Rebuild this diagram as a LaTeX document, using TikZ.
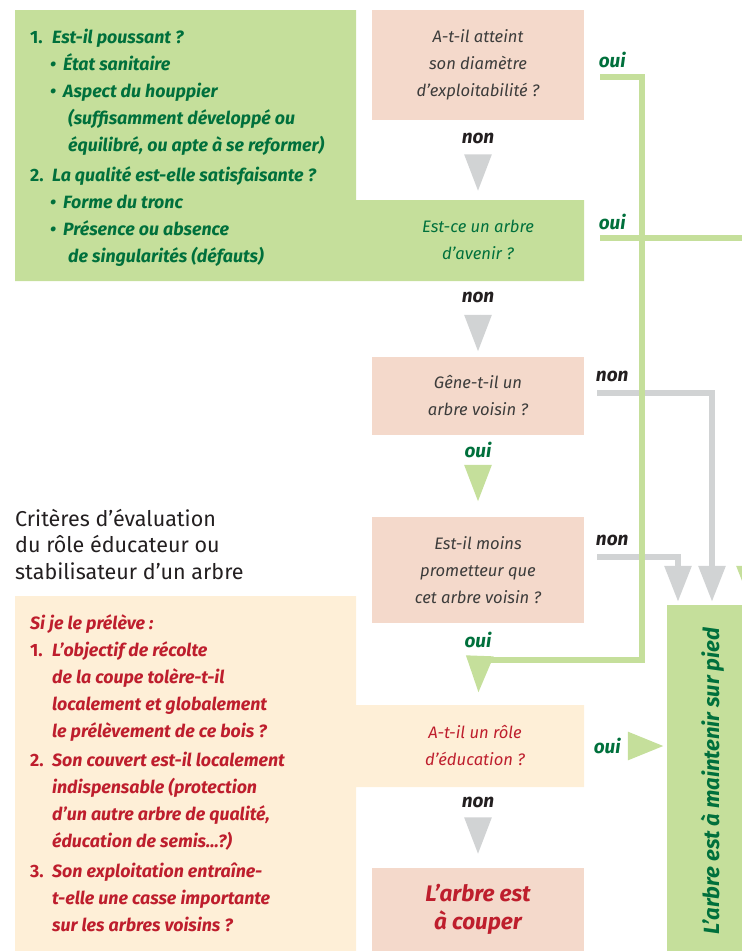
\documentclass[tikz,border=0pt]{standalone}
\usepackage{fontspec}
\setmainfont{Fira Sans}
\usetikzlibrary{arrows.meta,positioning,calc}
\definecolor{leafgreen}{RGB}{197,223,155}
\definecolor{leafdark}{RGB}{0,112,60}
\definecolor{salmon}{RGB}{244,217,203}
\definecolor{cream}{RGB}{254,239,215}
\definecolor{arrowgray}{RGB}{209,211,212}
\definecolor{cutred}{RGB}{190,30,45}
\definecolor{inkgray}{RGB}{60,60,59}
\definecolor{inkblack}{RGB}{35,31,32}

\tikzset{
  qbox/.style={minimum width=212pt, inner sep=0pt, align=center,
    font=\fontsize{16.6}{27}\selectfont\itshape, text=inkgray},
  crittext/.style={anchor=north west, inner sep=0pt, align=left,
    font=\fontsize{17.8}{27}\selectfont\bfseries\itshape},
  lbl/.style={font=\fontsize{19}{20}\selectfont\bfseries\itshape, inner sep=0pt},
  greyline/.style={draw=arrowgray, line width=6pt},
  greenline/.style={draw=leafgreen, line width=6pt},
  droptip/.style={-{Triangle[width=26pt,length=37pt]}, line width=6pt},
  sidetip/.style={-{Triangle[width=26pt,length=36pt]}},
}
\newcommand{\numit}[1]{\makebox[22pt][l]{\upshape #1}}
\newcommand{\bulit}{\hspace*{20pt}\makebox[13pt][l]{\textbullet}}
\newcommand{\contit}{\hspace*{38pt}}

\begin{document}
\begin{tikzpicture}[x=1pt, y=-1pt]
\useasboundingbox (0,0) rectangle (742,951);
\clip (0,0) rectangle (742,951);

% Panels behind the text
\fill[leafgreen] (15,10) -| (356,200) -| (584,281) -| cycle;
\fill[cream] (15,596) -| (356,705) -| (584,787) -| (356,951) -| cycle;

% Criteria (green panel)
\node[crittext, text=leafdark] (vigueur) at (30,29) {%
  \numit{1.}Est-il poussant ?\\
  \bulit État sanitaire\\
  \bulit Aspect du houppier\\
  \contit(suffisamment développé ou\\
  \contit équilibré, ou apte à se reformer)\\[3pt]
  \numit{2.}La qualité est-elle satisfaisante ?\\
  \bulit Forme du tronc\\
  \bulit Présence ou absence\\
  \contit de singularités (défauts)};

% Heading
\node[anchor=north west, inner sep=0pt, align=left, text=inkblack,
  font=\fontsize{21.5}{26.5}\selectfont] (titre) at (15,509)
  {Critères d’évaluation\\du rôle éducateur ou\\stabilisateur d’un arbre};

% Criteria (cream panel)
\node[crittext, text=cutred] (prelev) at (30,614) {%
  Si je le prélève :\\
  \numit{1.}L'objectif de récolte\\
  \hspace*{22pt}de la coupe tolère-t-il\\
  \hspace*{22pt}localement et globalement\\
  \hspace*{22pt}le prélèvement de ce bois ?\\[2pt]
  \numit{2.}Son couvert est-il localement\\
  \hspace*{22pt}indispensable (protection\\
  \hspace*{22pt}d'un autre arbre de qualité,\\
  \hspace*{22pt}éducation de semis...?)\\[3pt]
  \numit{3.}Son exploitation entraîne-\\
  \hspace*{22pt}t-elle une casse importante\\
  \hspace*{22pt}sur les arbres voisins ?};

% Questions
\node[qbox, fill=salmon, minimum height=110pt] (diam) at (478,65)
  {A-t-il atteint\\son diamètre\\d'exploitabilité ?};
\node[qbox, minimum height=81pt, text=leafdark] (avenir) at (478,240)
  {Est-ce un arbre\\d'avenir ?};
\node[qbox, fill=salmon, minimum height=78pt] (gene) at (478,396)
  {Gêne-t-il un\\arbre voisin ?};
\node[qbox, fill=salmon, minimum height=106pt] (moins) at (478,570)
  {Est-il moins\\prometteur que\\cet arbre voisin ?};
\node[qbox, minimum height=82pt, text=cutred] (educ) at (475,746)
  {A-t-il un rôle\\d'éducation ?};
\node[qbox, fill=salmon, minimum width=212pt, minimum height=83pt, text=cutred,
  font=\fontsize{22.5}{28}\selectfont\bfseries\itshape] (couper) at (478,909)
  {L’arbre est\\à couper};
\node[fill=leafgreen, minimum width=92pt, minimum height=352pt, inner sep=0pt,
  text=leafdark, font=\fontsize{22}{24}\selectfont\bfseries\itshape] (maint) at (713,781)
  {\rotatebox{90}{L’arbre est à maintenir sur pied}};

% Bends
\coordinate (bend) at (642,660);

% Side connectors
\draw[greyline, sidetip] ([xshift=13pt,yshift=3pt]gene.east) -| ([xshift=-1pt,yshift=3pt]maint.north);
\draw[greyline, sidetip] ([xshift=13pt,yshift=13pt]moins.east) -| ([xshift=-35pt,yshift=3pt]maint.north);
\draw[greenline] ([xshift=16pt,yshift=-12pt]diam.east) -| (bend) -- ([xshift=13pt]educ.north |- bend);
\draw[greenline, sidetip] ([xshift=16pt,yshift=2pt]avenir.east) -| ([xshift=37pt,yshift=3pt]maint.north);

% Drop arrows
\draw[droptip, arrowgray, shorten <=35pt, shorten >=8pt] (diam.south) -- (avenir.north);
\draw[droptip, arrowgray, shorten <=34pt, shorten >=5pt] (avenir.south) -- (gene.north);
\draw[droptip, leafgreen, shorten <=30pt, shorten >=15pt] (gene.south) -- (moins.north);
\draw[droptip, leafgreen, shorten <=35pt, shorten >=12pt] ([xshift=3pt]moins.south) -- ([xshift=3pt]educ.north);
\draw[droptip, arrowgray, shorten <=32pt, shorten >=13pt] ([xshift=3pt]educ.south) -- (couper.north);
\draw[leafgreen, -{Triangle[width=27pt,length=36pt]}, line width=6pt, shorten <=47pt, shorten >=3pt]
  (educ.east) -- (educ.east -| maint.west);

% Labels
\node[lbl, text=inkblack] at ([yshift=-18pt]diam.south) {non};
\node[lbl, text=inkblack] at ([yshift=-17pt]avenir.south) {non};
\node[lbl, text=leafdark] at ([yshift=-15pt]gene.south) {oui};
\node[lbl, text=leafdark] at ([yshift=-17pt]moins.south) {oui};
\node[lbl, text=inkblack] at ([xshift=3pt,yshift=-15pt]educ.south) {non};
\node[lbl, text=leafdark] at ([xshift=28pt,yshift=5pt]diam.east) {oui};
\node[lbl, text=leafdark] at ([xshift=28pt,yshift=18pt]avenir.east) {oui};
\node[lbl, text=inkblack] at ([xshift=28pt,yshift=20pt]gene.east) {non};
\node[lbl, text=inkblack] at ([xshift=28pt,yshift=30pt]moins.east) {non};
\node[lbl, text=leafdark] at ([xshift=26pt]educ.east) {oui};
\end{tikzpicture}
\end{document}
